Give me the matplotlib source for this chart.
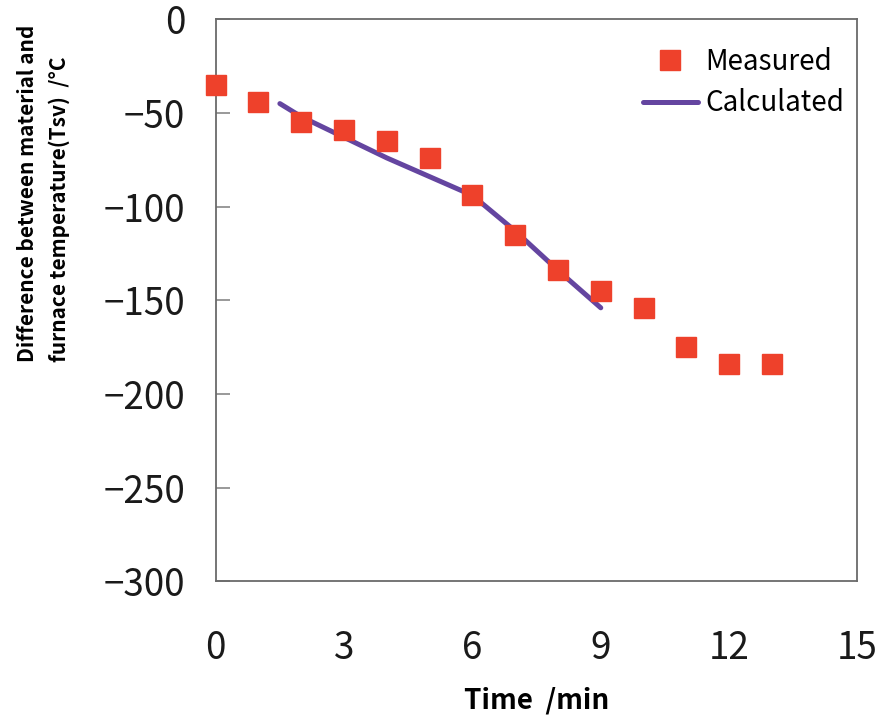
import matplotlib
matplotlib.use("Agg")
import matplotlib.pyplot as plt

plt.rcParams['font.family'] = ['Noto Sans CJK JP', 'DejaVu Sans']

# measured points, one per minute
meas_t = [0, 1, 2, 3, 4, 5, 6, 7, 8, 9, 10, 11, 12, 13]
meas_v = [-35, -44, -55, -59, -65, -74, -94, -115, -134, -145, -154, -175, -184, -184]

# calculated curve
calc_t = [1.5, 2, 3, 4, 5, 6, 7, 8, 9]
calc_v = [-45, -52, -63, -74, -84, -94, -113, -134, -154]

xticks = [0, 3, 6, 9, 12, 15]
yticks = [0, -50, -100, -150, -200, -250, -300]

fig = plt.figure(figsize=(8.84, 7.15), dpi=100)
ax = fig.add_axes([0.244, 0.187, 0.726, 0.786])

ax.plot(calc_t, calc_v, color='#6445A0', lw=3.6, solid_capstyle='round', label='Calculated', zorder=2)
ax.plot(meas_t, meas_v, ls='none', marker='s', ms=14, color='#EE412B', mec='#EE412B',
        label='Measured', zorder=3, clip_on=False)

ax.set_xlim(0, 15)
ax.set_ylim(-300, 0)
ax.set_xticks(xticks)
ax.set_yticks(yticks)

for s in ax.spines.values():
    s.set_color('#6a6a6a')
    s.set_linewidth(1.3)

ax.tick_params(axis='y', direction='in', length=10, width=1.2, color='#888888',
               labelsize=26.5, pad=22, labelcolor='#1a1a1a')
ax.tick_params(axis='x', length=0, labelsize=26.5, pad=34, labelcolor='#1a1a1a')

h, l = ax.get_legend_handles_labels()
ax.legend(h[::-1], l[::-1], loc='upper right', bbox_to_anchor=(1.018, 0.995), frameon=False,
          fontsize=20, handlelength=2.0, handletextpad=0.25, labelspacing=0.4)

ax.set_xlabel('Time  /min', fontsize=20, fontweight='bold', labelpad=14)

fig.text(0.049, (715 - 362) / 715, 'Difference between material and\nfurnace temperature(Tsv)  /\u00b0C',
         rotation=90, ha='center', va='bottom', multialignment='left',
         fontsize=15, fontweight='bold', linespacing=1.6)

fig.savefig('out.png', dpi=100)
